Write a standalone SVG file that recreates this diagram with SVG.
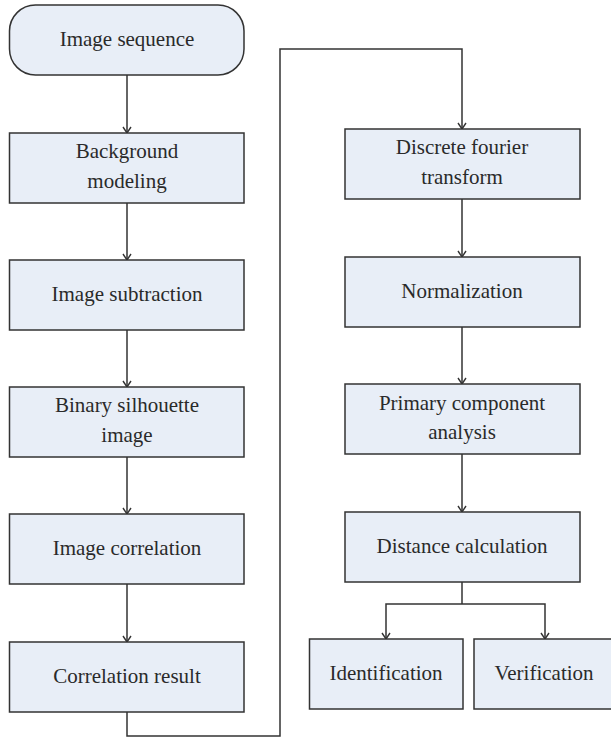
<svg xmlns="http://www.w3.org/2000/svg" width="611" height="737" viewBox="0 0 611 737">
  <style>
    .box { fill: #e8eef7; stroke: #333333; stroke-width: 1.5; }
    .lbl { font-size: 21px; fill: #2a2a2a; text-anchor: middle; }
    .wire { fill: none; stroke: #333333; stroke-width: 1.5; marker-end: url(#arrow); }
    .wire-plain { fill: none; stroke: #333333; stroke-width: 1.5; }
  </style>
  <defs>
    <marker id="arrow" viewBox="-6 -8 12 10" refX="0" refY="0" markerWidth="12" markerHeight="10" markerUnits="userSpaceOnUse" orient="auto" overflow="visible">
      <path d="M-4,-6 L0,0 L4,-6" fill="none" stroke="#333333" stroke-width="1.4" transform="rotate(-90)"/>
    </marker>
  </defs>
  <rect width="611" height="737" fill="#ffffff"/>

  <!-- connectors -->
  <g id="connectors">
    <path class="wire" d="M127,75 V133"/>
    <path class="wire" d="M127,203 V260"/>
    <path class="wire" d="M127,330 V387"/>
    <path class="wire" d="M127,457 V514"/>
    <path class="wire" d="M127,584 V642"/>
    <path class="wire" d="M127,712 V736 H280 V49 H462 V129"/>
    <path class="wire" d="M462,199 V257"/>
    <path class="wire" d="M462,327 V384"/>
    <path class="wire" d="M462,454 V512"/>
    <path class="wire-plain" d="M462,582 V604"/>
    <path class="wire" d="M462,604 H386 V639"/>
    <path class="wire" d="M462,604 H545 V639"/>
  </g>

  <g font-family="'Liberation Serif', 'Times New Roman', 'DejaVu Serif', serif">
  <!-- left column -->
  <g id="image-sequence">
    <rect class="box" x="9.5" y="5" width="234.5" height="70" rx="26" ry="26"/>
    <text class="lbl" x="127" y="46">Image sequence</text>
  </g>
  <g id="background-modeling">
    <rect class="box" x="9.5" y="133" width="234.5" height="70"/>
    <text class="lbl" x="127" y="158">Background</text>
    <text class="lbl" x="127" y="187.5">modeling</text>
  </g>
  <g id="image-subtraction">
    <rect class="box" x="9.5" y="260" width="234.5" height="70"/>
    <text class="lbl" x="127" y="301">Image subtraction</text>
  </g>
  <g id="binary-silhouette">
    <rect class="box" x="9.5" y="387" width="234.5" height="70"/>
    <text class="lbl" x="127" y="412">Binary silhouette</text>
    <text class="lbl" x="127" y="441.5">image</text>
  </g>
  <g id="image-correlation">
    <rect class="box" x="9.5" y="514" width="234.5" height="70"/>
    <text class="lbl" x="127" y="555">Image correlation</text>
  </g>
  <g id="correlation-result">
    <rect class="box" x="9.5" y="642" width="234.5" height="70"/>
    <text class="lbl" x="127" y="683">Correlation result</text>
  </g>

  <!-- right column -->
  <g id="dft">
    <rect class="box" x="345" y="129" width="235" height="70"/>
    <text class="lbl" x="462" y="154">Discrete fourier</text>
    <text class="lbl" x="462" y="183.5">transform</text>
  </g>
  <g id="normalization">
    <rect class="box" x="345" y="257" width="235" height="70"/>
    <text class="lbl" x="462" y="298">Normalization</text>
  </g>
  <g id="pca">
    <rect class="box" x="345" y="384" width="235" height="70"/>
    <text class="lbl" x="462" y="409.5">Primary component</text>
    <text class="lbl" x="462" y="439">analysis</text>
  </g>
  <g id="distance">
    <rect class="box" x="345" y="512" width="235" height="70"/>
    <text class="lbl" x="462" y="552.5">Distance calculation</text>
  </g>
  <g id="identification">
    <rect class="box" x="309.5" y="639" width="153.5" height="70"/>
    <text class="lbl" x="386" y="679.5">Identification</text>
  </g>
  <g id="verification">
    <rect class="box" x="474" y="639" width="140" height="70"/>
    <text class="lbl" x="544" y="679.5">Verification</text>
  </g>
  </g>
</svg>
